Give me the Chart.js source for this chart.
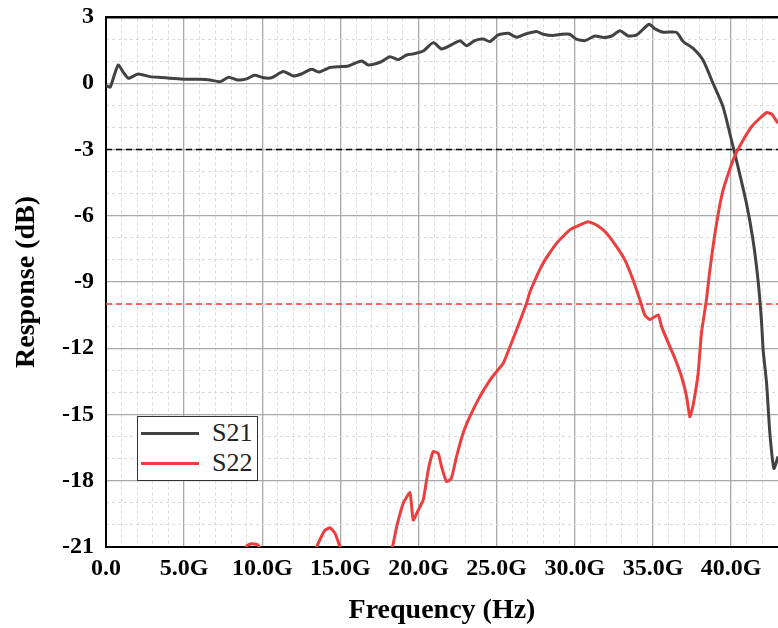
<!DOCTYPE html>
<html>
<head>
<meta charset="utf-8">
<script src="https://cdn.jsdelivr.net/npm/chart.js@4.4.1/dist/chart.umd.min.js"></script>
<style>
  html, body { margin: 0; padding: 0; background: #fff; overflow: hidden; }
  #wrap { position: relative; width: 778px; height: 628px; }
  #legend { position: absolute; left: 137px; top: 416px; width: 121px; height: 65px; box-sizing: border-box;
            border: 1.5px solid #333; background: #fff; font-family: "Liberation Serif", serif; font-size: 26px; color: #222; }
  #legend .sw { position: absolute; left: 3px; width: 58px; height: 3px; }
  #legend .lb { position: absolute; left: 74px; line-height: 26px; }
</style>
</head>
<body>
<div id="wrap">
  <canvas id="chart" width="778" height="628"></canvas>
  <div id="legend">
    <div class="sw" style="top:15px;background:rgb(66,66,66)"></div><div class="lb" style="top:3px">S21</div>
    <div class="sw" style="top:45px;background:rgb(236,62,62)"></div><div class="lb" style="top:33px">S22</div>
  </div>
</div>
<script>
// frequency in GHz, response in dB
var freqS21 = [0.0, 0.26, 0.5, 0.79, 1.1, 1.43, 2.07, 2.82, 3.5, 4.1, 5.05, 6.0, 6.65, 7.3, 7.85, 8.4, 9.0, 9.5, 10.07, 10.6,
    11.35, 11.99, 12.5, 13.16, 13.6, 14.33, 14.97, 15.5, 16.36, 16.78, 17.53, 18.17, 18.7, 19.23, 19.66, 20.3, 20.94, 21.47, 22.0, 22.65,
    23.07, 23.6, 24.14, 24.57, 25.1, 25.74, 26.27, 26.8, 27.55, 27.97, 28.61, 29.15, 29.68, 30.1, 30.65, 31.29, 31.82, 32.36, 32.89, 33.42,
    33.96, 34.75, 35.13, 35.66, 36.5, 36.93, 37.57, 38.2, 38.84, 39.48, 40.02, 40.44, 40.98, 41.4, 41.72, 41.94, 42.05, 42.27, 42.48, 42.74, 43.0];
var valS21 = [-0.1, -0.18, 0.3, 0.83, 0.5, 0.23, 0.42, 0.3, 0.26, 0.23, 0.18, 0.18, 0.15, 0.07, 0.27, 0.15, 0.2, 0.36, 0.25, 0.25,
    0.53, 0.33, 0.42, 0.63, 0.51, 0.71, 0.75, 0.78, 1.01, 0.83, 0.95, 1.2, 1.07, 1.28, 1.33, 1.46, 1.84, 1.55, 1.7, 1.93,
    1.7, 1.93, 2.0, 1.89, 2.19, 2.26, 2.08, 2.22, 2.34, 2.22, 2.16, 2.22, 2.22, 2.0, 1.93, 2.14, 2.07, 2.14, 2.38, 2.14,
    2.19, 2.67, 2.46, 2.31, 2.31, 1.89, 1.58, 1.05, 0.0, -1.06, -2.57, -3.78, -5.43, -7.1, -8.9, -10.72, -12.08, -13.59, -15.85, -17.44, -16.9];

var freqS22 = [0, 8.6, 9.0, 9.3, 9.7, 10.1, 12.5, 13.47, 13.8, 14.0, 14.33, 14.65, 14.97, 15.5, 17.5, 18.33, 18.6, 19.02, 19.45, 19.66,
    19.98, 20.3, 20.62, 20.94, 21.26, 21.47, 21.79, 22.1, 22.43, 22.85, 23.28, 23.92, 24.57, 24.99, 25.42, 25.85, 26.27, 26.91, 27.13, 27.97,
    28.82, 29.68, 30.32, 30.85, 31.39, 32.03, 32.67, 33.2, 33.73, 34.16, 34.48, 34.8, 35.33, 35.55, 36.08, 36.4, 36.83, 37.15, 37.36, 37.57,
    37.89, 38.1, 38.42, 38.64, 39.07, 39.49, 40.13, 40.77, 41.4, 42.26, 42.58, 43.0];
var valS22 = [-25, -21.6, -20.95, -20.85, -20.9, -21.3, -22.5, -21.0, -20.5, -20.25, -20.13, -20.37, -20.99, -22.0, -22.5, -20.99, -20.08, -19.02, -18.54, -19.78,
    -19.33, -18.87, -17.51, -16.68, -16.76, -17.36, -18.04, -17.89, -16.91, -15.85, -15.1, -14.19, -13.44, -13.06, -12.68, -11.93, -11.17, -9.96, -9.44, -8.15,
    -7.25, -6.64, -6.42, -6.27, -6.42, -6.79, -7.4, -8.0, -8.91, -9.8, -10.5, -10.7, -10.49, -11.02, -11.93, -12.45, -13.29, -14.19, -15.1, -14.57,
    -13.13, -11.32, -9.81, -8.46, -6.34, -4.83, -3.47, -2.57, -1.89, -1.33, -1.39, -1.81];

var refFreq = [0, 43];
var ref3dB = [-3, -3];
var ref10dB = [-10, -10];

var xMin = 0, xMax = 43, yMin = -21, yMax = 3;

function toPoints(xs, ys) {
    return xs.map(function(x, i) { return {x: x, y: ys[i]}; });
}

// stop the tick labels from pushing the plot area around
function noEdgePadding(s) {
    s.paddingTop = 0;
    s.paddingBottom = 0;
    s.paddingLeft = 0;
    s.paddingRight = 0;
}

var tickFont = {family: 'Liberation Serif', size: 24, weight: 'bold'};
var titleFont = {family: 'Liberation Serif', size: 28, weight: 'bold'};
var majorGrid = '#a9a9a9';
var minorGrid = '#dadada';

var ctx = document.getElementById('chart').getContext('2d');
new Chart(ctx, {
    type: 'line',
    data: {
        datasets: [
            {
                label: '-3 dB',
                data: toPoints(refFreq, ref3dB),
                borderColor: '#000',
                borderWidth: 1.5,
                borderDash: [6, 4],
                pointRadius: 0,
                order: 3
            },
            {
                label: '-10 dB',
                data: toPoints(refFreq, ref10dB),
                borderColor: 'rgb(240,60,60)',
                borderWidth: 1.5,
                borderDash: [6, 4],
                pointRadius: 0,
                order: 3
            },
            {
                label: 'S21',
                data: toPoints(freqS21, valS21),
                borderColor: 'rgb(66,66,66)',
                borderWidth: 3,
                pointRadius: 0,
                tension: 0.2,
                clip: 0,
                order: 2
            },
            {
                label: 'S22',
                data: toPoints(freqS22, valS22),
                borderColor: 'rgb(236,62,62)',
                borderWidth: 3,
                pointRadius: 0,
                tension: 0.15,
                clip: 0,
                order: 1
            }
        ]
    },
    options: {
        responsive: false,
        animation: false,
        devicePixelRatio: 1,
        layout: {padding: {top: 17, left: 0, right: 0, bottom: 0}},
        plugins: {
            legend: {display: false},
            tooltip: {enabled: false}
        },
        scales: {
            x: {
                type: 'linear',
                position: 'bottom',
                min: xMin,
                max: xMax,
                ticks: {
                    stepSize: 5,
                    includeBounds: false,
                    autoSkip: false,
                    maxRotation: 0,
                    padding: 7,
                    color: '#000',
                    font: tickFont,
                    callback: function(v) { return v === 0 ? '0.0' : v.toFixed(1) + 'G'; }
                },
                grid: {color: majorGrid, lineWidth: 1.3, drawTicks: false},
                border: {color: '#000', width: 2},
                title: {display: true, text: 'Frequency (Hz)', color: '#000', font: titleFont, padding: {top: 0, bottom: 0}},
                afterFit: function(s) { s.height = 81; noEdgePadding(s); }
            },
            xMinor: {
                type: 'linear',
                position: 'top',
                min: xMin,
                max: xMax,
                ticks: {display: false, stepSize: 1, includeBounds: false, autoSkip: false},
                grid: {
                    color: function(c) { return c.tick && c.tick.value % 5 === 0 ? 'rgba(0,0,0,0)' : minorGrid; },
                    lineWidth: 1,
                    drawTicks: false
                },
                border: {color: '#000', width: 2.5, dash: [3, 3]},
                afterFit: function(s) { s.height = 0; noEdgePadding(s); }
            },
            y: {
                type: 'linear',
                position: 'left',
                min: yMin,
                max: yMax,
                ticks: {stepSize: 3, padding: 12, color: '#000', font: tickFont},
                grid: {color: majorGrid, lineWidth: 1.3, drawTicks: false},
                border: {color: '#000', width: 2},
                title: {display: true, text: 'Response (dB)', color: '#000', font: titleFont, padding: {top: 10, bottom: 0}},
                afterFit: function(s) { s.width = 106; noEdgePadding(s); }
            },
            yMinor: {
                type: 'linear',
                position: 'right',
                min: yMin,
                max: yMax,
                ticks: {display: false, stepSize: 1, autoSkip: false},
                grid: {
                    color: function(c) { return c.tick && c.tick.value % 3 === 0 ? 'rgba(0,0,0,0)' : minorGrid; },
                    lineWidth: 1,
                    drawTicks: false
                },
                border: {display: false, dash: [3, 3]},
                afterFit: function(s) { s.width = 0; noEdgePadding(s); }
            }
        }
    }
});
</script>
</body>
</html>
